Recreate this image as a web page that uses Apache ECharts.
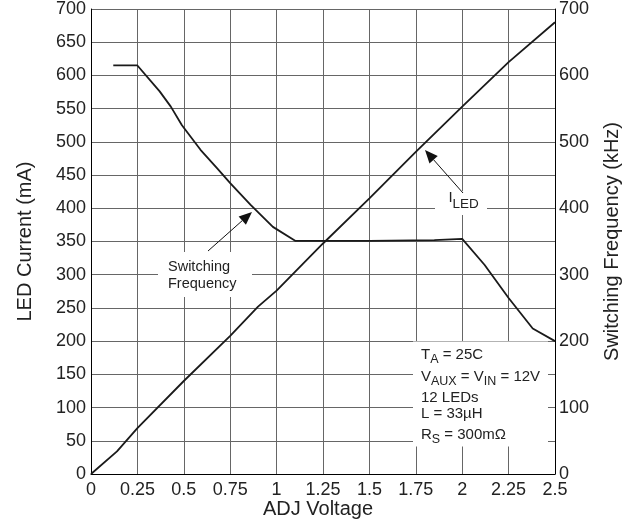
<!DOCTYPE html>
<html>
<head>
<meta charset="utf-8">
<script src="https://cdn.jsdelivr.net/npm/echarts@6/dist/echarts.min.js"></script>
<style>html,body{margin:0;padding:0;background:#fff;}#c{width:635px;height:523px;}</style>
</head>
<body>
<div id="c"></div>
<script>
// ---- data ----
const xTickValues = [0, 0.25, 0.5, 0.75, 1, 1.25, 1.5, 1.75, 2, 2.25, 2.5];
const leftTickValues = [0, 50, 100, 150, 200, 250, 300, 350, 400, 450, 500, 550, 600, 650, 700];
const rightTickValues = [0, 100, 200, 300, 400, 500, 600, 700];

const adjVoltageLed = [0, 0.14, 0.25, 0.5, 0.75, 0.9, 1.0, 1.25, 1.5, 1.75, 2.0, 2.25, 2.5];
const ledCurrent    = [0, 34, 69, 140, 208, 252, 276, 347, 415, 485, 553, 620, 680];

const adjVoltageSw  = [0.12, 0.25, 0.37, 0.43, 0.49, 0.59, 0.68, 0.75, 0.86, 0.98, 1.1, 1.5, 1.85, 2.0, 2.12, 2.25, 2.38, 2.5];
const switchingFreq = [615, 615, 576, 553, 525, 488, 460, 438, 405, 372, 351, 351, 352, 354, 315, 265, 219, 200];

const xTitle = 'ADJ Voltage';
const leftTitle = 'LED Current (mA)';
const rightTitle = 'Switching Frequency (kHz)';
// condition lines: [text, isSubscript]
const conditionLines = [
  [['T', 0], ['A', 1], [' = 25C', 0]],
  [['V', 0], ['AUX', 1], [' = V', 0], ['IN', 1], [' = 12V', 0]],
  [['12 LEDs', 0]],
  [['L = 33\u00B5H', 0]],
  [['R', 0], ['S', 1], [' = 300m\u03A9', 0]]
];

const FONT = '"Liberation Sans", Arial, sans-serif';
const TXT = '#222';
const GRIDC = '#666';

const chart = echarts.init(document.getElementById('c'), null, {renderer: 'canvas'});
const mctx = document.createElement('canvas').getContext('2d');

function textEl(x, y, t, size, align, extra) {
  return Object.assign({
    type: 'text', x: x, y: y, z: 20,
    style: {text: t, font: size + 'px ' + FONT, fill: TXT,
      textAlign: align || 'left', textVerticalAlign: 'middle',
      align: align || 'left', verticalAlign: 'middle'}
  }, extra || {});
}
function richLine(x, y, segs, mainSize, subSize) {
  const els = []; let cx = x;
  segs.forEach(function (s) {
    const size = s[1] ? subSize : mainSize;
    els.push(textEl(cx, s[1] ? y + 5 : y, s[0], size, 'left'));
    mctx.font = size + 'px ' + FONT;
    cx += mctx.measureText(s[0]).width;
  });
  return els;
}
function arrow(x1, y1, x2, y2) {
  const dx = x2 - x1, dy = y2 - y1, L = Math.sqrt(dx * dx + dy * dy);
  const ux = dx / L, uy = dy / L, hl = 13, hw = 5.5;
  const bx = x2 - ux * hl, by = y2 - uy * hl;
  return [
    {type: 'line', z: 20, shape: {x1: x1, y1: y1, x2: bx, y2: by}, style: {stroke: '#111', lineWidth: 1}},
    {type: 'polygon', z: 20, shape: {points: [[x2, y2], [bx - uy * hw, by + ux * hw], [bx + uy * hw, by - ux * hw]]}, style: {fill: '#111'}}
  ];
}

const axisLabelStyle = {fontFamily: FONT, fontSize: 18, color: TXT};
const titleStyle = {fontFamily: FONT, fontSize: 20, color: TXT};

const graphics = [];
// conditions box
graphics.push({type: 'rect', z: 15, shape: {x: 413, y: 341.5, width: 135, height: 105}, style: {fill: '#fff'}});
const condY = [355, 377, 398, 414, 435];
conditionLines.forEach(function (segs, i) {
  richLine(421, condY[i], segs, 15, 12.5).forEach(function (e) { graphics.push(e); });
});
// switching frequency label
graphics.push({type: 'rect', z: 15, shape: {x: 158, y: 252, width: 94, height: 45}, style: {fill: '#fff'}});
graphics.push(textEl(168, 267, 'Switching', 14.5, 'left'));
graphics.push(textEl(168, 284, 'Frequency', 14.5, 'left'));
arrow(208, 251, 252, 212).forEach(function (e) { graphics.push(e); });
// I_LED label
graphics.push({type: 'rect', z: 15, shape: {x: 435, y: 191, width: 52, height: 24}, style: {fill: '#fff'}});
graphics.push(textEl(448.5, 198, 'I', 15, 'left'));
graphics.push(textEl(452.5, 204, 'LED', 13.5, 'left'));
arrow(463, 193, 425, 150).forEach(function (e) { graphics.push(e); });
// x axis title
graphics.push(textEl(318, 509, xTitle, 20, 'center'));

const option = {
  backgroundColor: '#fff',
  animation: false,
  grid: {left: 91, top: 9, width: 464, height: 465, containLabel: false},
  xAxis: {
    type: 'value',
    min: xTickValues[0], max: xTickValues[xTickValues.length - 1],
    interval: xTickValues[1] - xTickValues[0],
    axisLine: {show: true, lineStyle: {color: '#000', width: 1}},
    axisTick: {show: false},
    axisLabel: {margin: 7, ...axisLabelStyle},
    splitLine: {show: true, lineStyle: {color: GRIDC, width: 1}}
  },
  yAxis: [{
    type: 'value', position: 'left',
    min: leftTickValues[0], max: leftTickValues[leftTickValues.length - 1],
    interval: leftTickValues[1] - leftTickValues[0],
    name: leftTitle, nameLocation: 'middle', nameGap: 56, nameRotate: 90,
    nameTextStyle: titleStyle,
    axisLine: {show: true, lineStyle: {color: '#000', width: 1}},
    axisTick: {show: false},
    axisLabel: {margin: 5, ...axisLabelStyle},
    splitLine: {show: true, lineStyle: {color: GRIDC, width: 1}}
  }, {
    type: 'value', position: 'right',
    min: rightTickValues[0], max: rightTickValues[rightTickValues.length - 1],
    interval: rightTickValues[1] - rightTickValues[0],
    name: rightTitle, nameLocation: 'middle', nameGap: 47, nameRotate: 90,
    nameTextStyle: titleStyle,
    axisLine: {show: true, lineStyle: {color: '#000', width: 1}},
    axisTick: {show: false},
    axisLabel: {margin: 4, ...axisLabelStyle},
    splitLine: {show: false}
  }],
  series: [{
    name: 'LED Current', type: 'line', yAxisIndex: 0, showSymbol: false, symbol: 'none',
    lineStyle: {color: '#1a1a1a', width: 1.8},
    data: adjVoltageLed.map(function (v, i) { return [v, ledCurrent[i]]; }),
    z: 5
  }, {
    name: 'Switching Frequency', type: 'line', yAxisIndex: 1, showSymbol: false, symbol: 'none',
    lineStyle: {color: '#1a1a1a', width: 1.8},
    data: adjVoltageSw.map(function (v, i) { return [v, switchingFreq[i]]; }),
    z: 5
  }],
  graphic: graphics
};
chart.setOption(option);
</script>
</body>
</html>
